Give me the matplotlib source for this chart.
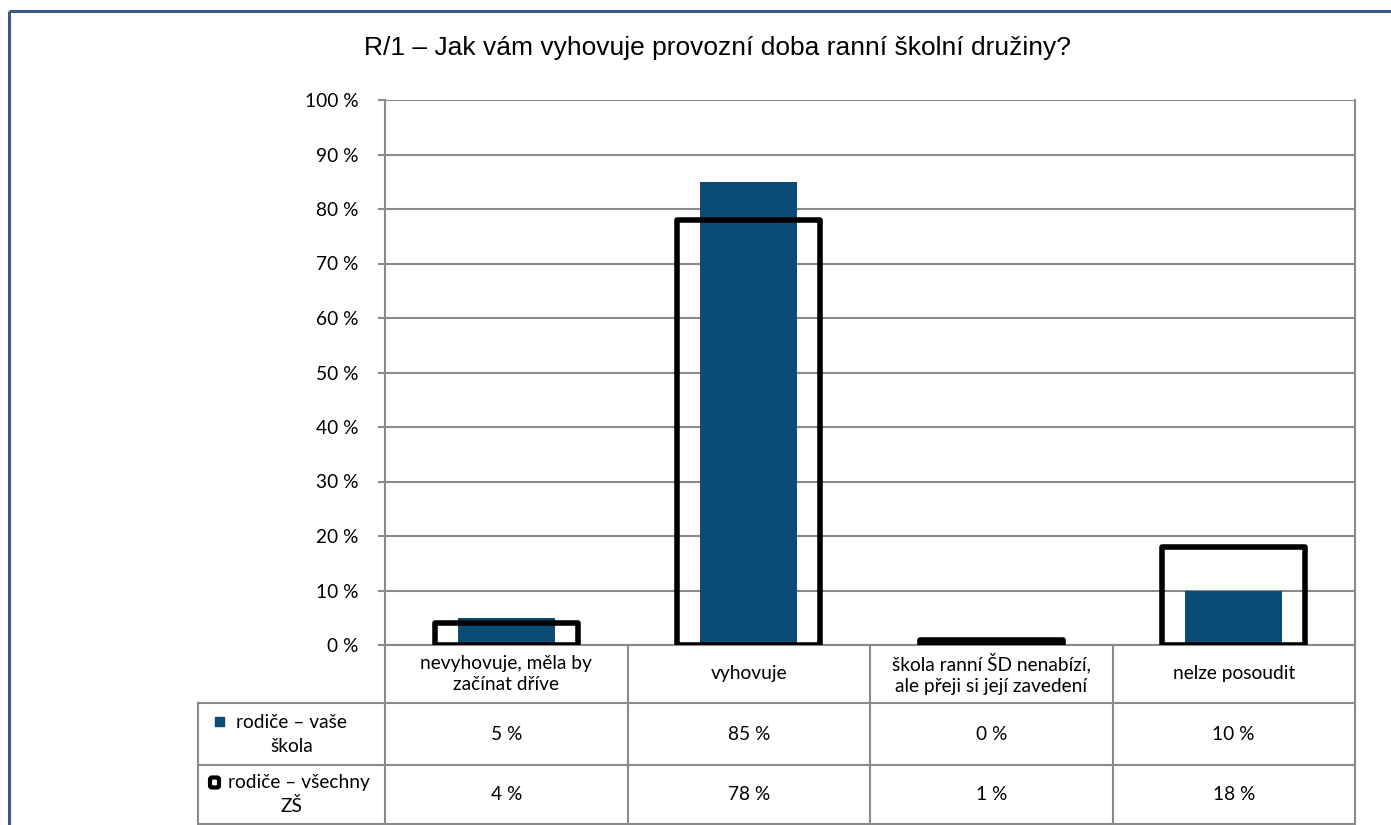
import numpy as np
import matplotlib
matplotlib.use("Agg")
import matplotlib.pyplot as plt
from matplotlib.patches import Rectangle, FancyBboxPatch

# ── data ───────────────────────────────────────────────────────────────────────
TITLE = "R/1 – Jak vám vyhovuje provozní doba ranní školní družiny?"
CATEGORIES = ["nevyhovuje, měla by\nzačínat dříve",
              "vyhovuje",
              "škola ranní ŠD nenabízí,\nale přeji si její zavedení",
              "nelze posoudit"]
SERIES_NAMES = [("rodiče – vaše", "škola"), ("rodiče – všechny", "ZŠ")]
SCHOOL = [5, 85, 0, 10]
ALL_ZS = [4, 78, 1, 18]
Y_TICKS = list(range(0, 101, 10))

# ── layout (pixels) ────────────────────────────────────────────────────────────
W, H = 1391, 825
PX_L, PX_R = 385, 1355          # plot area
PX_TOP, PX_BOT = 100, 645
LEG_L = 198                     # left edge of legend column
ROW_Y = [645, 703, 765, 824]    # table row boundaries
LEG_SHIFT = [0, 7]              # first-line offset next to the key symbol

BLUE = "#0b4c74"
GRID = "#8a8a8a"
FONT = "Lato"
FS = 13.8

fig = plt.figure(figsize=(W / 100, H / 100), dpi=100)

# overlay for frame + table grid, pixel coordinates
ov = fig.add_axes([0, 0, 1, 1], zorder=0)
ov.set_xlim(0, W)
ov.set_ylim(H, 0)
ov.axis("off")

# chart border
ov.plot([9, 9], [H, 11], color="#3b5b82", lw=2.2, solid_capstyle="butt")
ov.plot([9, W], [11, 11], color="#3b5b82", lw=2.2, solid_capstyle="butt")

# main axes
ax = fig.add_axes([PX_L / W, (H - PX_BOT) / H, (PX_R - PX_L) / W,
                   (PX_BOT - PX_TOP) / H], zorder=2)
ax.patch.set_alpha(0)
x = np.arange(len(CATEGORIES))
ax.bar(x, SCHOOL, width=0.40, color=BLUE, zorder=3)
ax.bar(x, ALL_ZS, width=0.59, fill=False, edgecolor="black", linewidth=4,
       joinstyle="round", zorder=4)
ax.set_xlim(-0.5, len(CATEGORIES) - 0.5)
ax.set_ylim(0, 100)
ax.set_yticks(Y_TICKS)
ax.set_yticklabels([f"{t} %" for t in Y_TICKS], fontsize=FS, family=FONT)
ax.yaxis.grid(True, color=GRID, lw=1.5)
ax.set_axisbelow(True)
ax.set_xticks([])
ax.tick_params(axis="y", length=5, width=1.5, color=GRID, pad=14)
ax.spines["top"].set_visible(False)
for s in ["left", "right", "bottom"]:
    ax.spines[s].set_color(GRID)
    ax.spines[s].set_linewidth(1.5)

fig.text(718 / W, 1 - 48 / H, TITLE, ha="center", va="center",
         fontsize=19, family="Liberation Sans")

# ── data table ─────────────────────────────────────────────────────────────────
col_w = (PX_R - PX_L) / len(CATEGORIES)
col_x = [PX_L + i * col_w for i in range(len(CATEGORIES) + 1)]
for cx in col_x:
    ov.plot([cx, cx], [ROW_Y[0], ROW_Y[-1]], color=GRID, lw=1.5)
ov.plot([LEG_L, LEG_L], [ROW_Y[1], ROW_Y[-1]], color=GRID, lw=1.5)
for ry in ROW_Y[1:]:
    ov.plot([LEG_L, PX_R], [ry, ry], color=GRID, lw=1.5)

for i, cat in enumerate(CATEGORIES):
    cx = (col_x[i] + col_x[i + 1]) / 2
    ov.text(cx, (ROW_Y[0] + ROW_Y[1]) / 2, cat, ha="center", va="center",
            fontsize=FS, family=FONT, linespacing=1.3)
    for r, vals in enumerate([SCHOOL, ALL_ZS]):
        ov.text(cx, (ROW_Y[r + 1] + ROW_Y[r + 2]) / 2, f"{vals[i]} %",
                ha="center", va="center", fontsize=FS, family=FONT)

# legend cells
leg_cx = (LEG_L + PX_L) / 2
for r, (line1, line2) in enumerate(SERIES_NAMES):
    cy = (ROW_Y[r + 1] + ROW_Y[r + 2]) / 2
    ov.text(leg_cx + LEG_SHIFT[r], cy - 12, line1, ha="center", va="center",
            fontsize=FS, family=FONT)
    ov.text(leg_cx, cy + 12, line2, ha="center", va="center",
            fontsize=FS, family=FONT)
    if r == 0:
        ov.add_patch(Rectangle((215, cy - 17), 9, 9, color=BLUE))
    else:
        ov.add_patch(FancyBboxPatch((210, cy - 17), 9, 10,
                                    boxstyle="round,pad=0,rounding_size=2",
                                    fill=False, ec="black", lw=3))

fig.savefig("out.png", dpi=100)
